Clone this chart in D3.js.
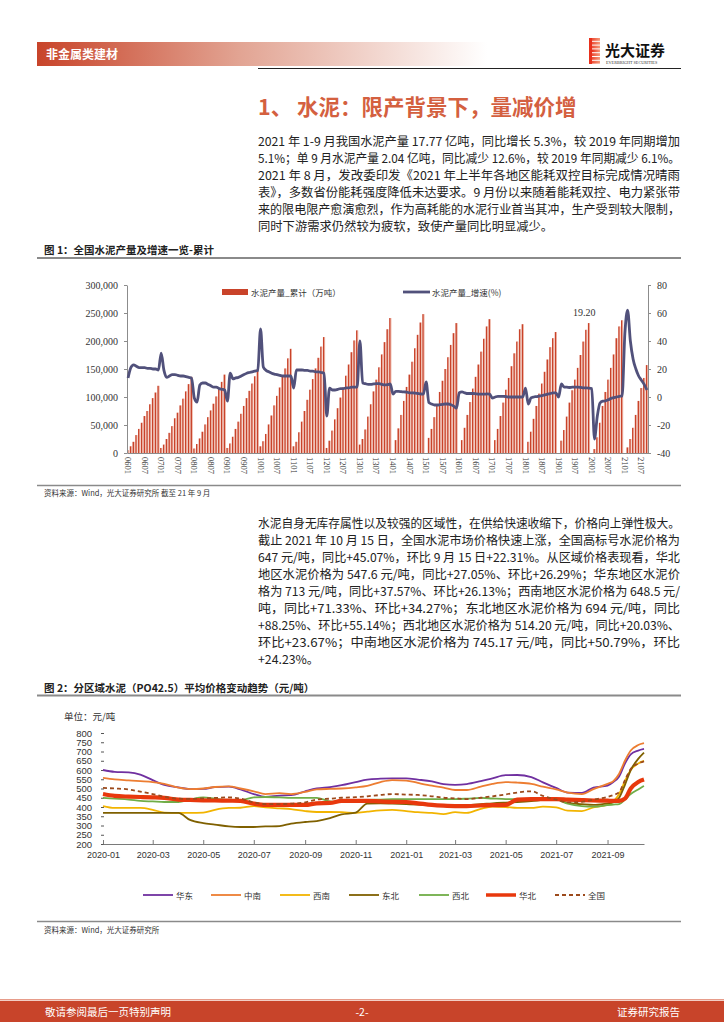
<!DOCTYPE html>
<html><head><meta charset="utf-8">
<script src="https://cdn.jsdelivr.net/npm/d3@7"></script>
<style>body{margin:0;background:#fff}svg{display:block}</style>
</head><body><svg id="c" width="724" height="1024"></svg>
<script>
// ---------- DATA ----------
const headerTag = "非金属类建材";
const sectionTitle = "1、 水泥：限产背景下，量减价增";
const para1 = [
 "2021 年 1-9 月我国水泥产量 17.77 亿吨，同比增长 5.3%，较 2019 年同期增加",
 "5.1%；单 9 月水泥产量 2.04 亿吨，同比减少 12.6%，较 2019 年同期减少 6.1%。",
 "2021 年 8 月，发改委印发《2021 年上半年各地区能耗双控目标完成情况晴雨",
 "表》，多数省份能耗强度降低未达要求。9 月份以来随着能耗双控、电力紧张带",
 "来的限电限产愈演愈烈，作为高耗能的水泥行业首当其冲，生产受到较大限制，",
 "同时下游需求仍然较为疲软，致使产量同比明显减少。"
];
const para2 = [
 "水泥自身无库存属性以及较强的区域性，在供给快速收缩下，价格向上弹性极大。",
 "截止 2021 年 10 月 15 日，全国水泥市场价格快速上涨，全国高标号水泥价格为",
 "647 元/吨，同比+45.07%，环比 9 月 15 日+22.31%。从区域价格表现看，华北",
 "地区水泥价格为 547.6 元/吨，同比+27.05%、环比+26.29%；华东地区水泥价",
 "格为 713 元/吨，同比+37.57%、环比+26.13%；西南地区水泥价格为 648.5 元/",
 "吨，同比+71.33%、环比+34.27%；东北地区水泥价格为 694 元/吨，同比",
 "+88.25%、环比+55.14%；西北地区水泥价格为 514.20 元/吨，同比+20.03%、",
 "环比+23.67%；中南地区水泥价格为 745.17 元/吨，同比+50.79%，环比",
 "+24.23%。"
];

// Figure 1: cumulative cement output (万吨) by year, Jan..Dec
const years = [6,7,8,9,10,11,12,13,14,15,16,17,18,19,20,21];
const p2006 = [5000,12000,20000,32000,43000,54000,66000,75000,87000,98000,108000,120000];
const p2007 = [9000,15000,25000,36000,48000,62000,72000,85000,97000,110000,123000,136000];
const p2008 = [8000,16000,26000,38000,51000,64000,76000,88000,101000,114000,127000,140000];
const p2009 = [9000,17000,29000,43000,56000,70000,84000,98000,111000,124000,137000,150000];
const p2010 = [12000,21000,34000,51000,67000,85000,102000,117000,136000,151000,169000,186000];
const p2011 = [12000,20000,37000,56000,75000,95000,113000,132000,151000,170000,190000,207000];
const p2012 = [9000,22000,40000,60000,80000,99000,117000,138000,158000,180000,201000,219000];
const p2013 = [15000,25000,42000,65000,87000,110000,131000,153000,176000,198000,221000,241000];
const p2014 = [0,23000,44000,68000,93000,118000,140000,163000,187000,211000,233000,248000];
const p2015 = [0,27000,43000,64000,87000,109000,129000,150000,171000,193000,214000,232000];
const p2016 = [0,23000,45000,68000,91000,115000,136000,158000,181000,204000,226000,239000];
const p2017 = [0,23000,43000,66000,90000,113000,134000,155000,178000,199000,221000,230000];
const p2018 = [0,20000,38000,61000,84000,106000,124000,145000,167000,189000,205000,216000];
const p2019 = [0,22000,41000,65000,90000,112000,131000,152000,175000,199000,220000,232000];
const p2020 = [0,7000,28000,54000,84000,109000,131000,152000,176000,205000,226000,237000];
const p2021 = [0,10000,25000,45000,68000,93000,116000,134000,157000];
// growth (%)
const g2006 = [13.6,21,23,22,21,21,21,20.5,20.5,20,20,19.3];
const g2007 = [31.4,19,14,15,16,16,15.5,15,15,14.5,14,13.6];
const g2008 = [-0.7,-3.6,8.5,10,10,9,8,7,7,6,5.5,5];
const g2009 = [-3,17,13,13.6,14,15,16,17,17.5,18,18.5,19];
const g2010 = [48.6,21.4,19,18,17,16.4,16,15.5,15,15,15,15];
const g2011 = [6.4,19.3,19.3,19.3,19,19,18.5,18.5,18,18,17.5,17];
const g2012 = [-13.6,6.4,5,5,5.5,6,6,6.5,6.5,7,7,7];
const g2013 = [40,10,9.5,9,9,9.3,9.5,9.5,9,8.6,8.8,9.3];
const g2014 = [2,4,4,3.8,3.6,3.5,3,3,2.8,2.5,2.2,2];
const g2015 = [10.7,-4,-5,-5.7,-5.7,-5.5,-5.3,-5,-5,-5.5,-6.5,-8];
const g2016 = [3,3.6,3,2.5,2.5,2.5,2.3,2,2,2,2.2,2];
const g2017 = [-0.7,0,0.5,0.5,0.5,0.3,0,0,0,0,0,0];
const g2018 = [6.4,-5,-0.7,0,0.3,0.7,1,1.5,2,2.5,3,3];
const g2019 = [0,9.3,7.1,7,6.8,7,7,7,6.8,6.5,6.5,6.4];
const g2020 = [6,-30,-14,-4.3,-3,-2.8,-2,-1,-0.5,0,0.5,0.7];
const g2021 = [45,62,40,27,20,15,12,9,5];
const leftTicks = [0,50000,100000,150000,200000,250000,300000];
const rightTicks = [-40,-20,0,20,40,60,80];
const fig1Legend = ["水泥产量_累计（万吨）","水泥产量_增速(%)"];

// Figure 2: regional cement prices (元/吨)
const priceDates = ["2020-01-01","2020-01-15","2020-02-01","2020-02-15","2020-03-01","2020-03-15","2020-04-01","2020-04-15","2020-05-01","2020-05-15","2020-06-01","2020-06-15","2020-07-01","2020-07-15","2020-08-01","2020-08-15","2020-09-01","2020-09-15","2020-10-01","2020-10-15","2020-11-01","2020-11-15","2020-12-01","2020-12-15","2021-01-01","2021-01-15","2021-02-01","2021-02-15","2021-03-01","2021-03-15","2021-04-01","2021-04-15","2021-05-01","2021-05-15","2021-06-01","2021-06-15","2021-07-01","2021-07-15","2021-08-01","2021-08-15","2021-09-01","2021-09-08","2021-09-15","2021-09-22","2021-09-29","2021-10-08","2021-10-15"];
const huadong = [600,590,587,575,545,520,506,497,498,507,510,495,470,455,462,464,485,500,508,518,535,548,553,555,555,548,538,524,520,524,540,555,572,573,562,533,503,478,476,505,516,535,565,635,685,705,714];
const zhongnan = [557,549,544,540,535,525,505,497,500,508,512,500,485,470,475,470,482,495,498,500,506,514,535,545,543,530,515,505,492,492,510,525,535,532,525,510,495,478,470,497,525,540,580,650,705,735,745];
const xinan = [405,395,395,395,385,370,368,368,370,385,395,396,405,398,393,389,378,373,373,372,368,375,382,384,378,372,368,362,372,368,390,402,400,395,395,402,398,380,378,398,412,430,470,540,600,635,649];
const dongbei = [368,368,368,368,368,368,368,330,313,305,295,292,292,295,297,310,319,324,340,360,370,418,420,418,415,413,411,411,411,411,415,420,424,427,432,438,443,422,415,411,420,425,450,520,600,660,694];
const xibei = [449,445,440,433,430,427,427,440,452,445,435,437,452,454,452,449,449,449,430,427,430,438,440,442,443,443,443,443,443,445,449,446,443,443,443,443,440,418,405,402,410,413,416,440,470,495,514];
const huabei = [470,460,456,454,452,449,440,438,436,435,434,433,418,411,411,411,411,420,422,433,433,433,430,428,427,420,411,407,405,405,408,410,411,440,443,443,443,440,437,435,434,433,433,445,500,535,548];
const quanguo = [503,500,495,483,470,455,445,444,447,449,452,445,425,416,416,418,425,440,445,450,453,458,465,470,467,465,458,450,447,443,450,458,468,478,485,460,440,425,428,440,455,465,480,545,605,635,647];
const regionNames = ["华东","中南","西南","东北","西北","华北","全国"];
const priceTicks = [200,250,300,350,400,450,500,550,600,650,700,750,800];
const priceXTicks = ["2020-01-01","2020-03-01","2020-05-01","2020-07-01","2020-09-01","2020-11-01","2021-01-01","2021-03-01","2021-05-01","2021-07-01","2021-09-01"];

// ---------- DRAW ----------
const svg = d3.select("#c");
const CJK = "'Noto Sans CJK SC','Noto Sans',sans-serif";
const RED = "#c8442a";

// header
const defs = svg.append("defs");
const hg = defs.append("linearGradient").attr("id","hg");
hg.append("stop").attr("offset","0%").attr("stop-color","#c8442a");
hg.append("stop").attr("offset","45%").attr("stop-color","#e2a493");
hg.append("stop").attr("offset","100%").attr("stop-color","#ffffff");
svg.append("rect").attr("x",37).attr("y",42).attr("width",450).attr("height",24).attr("fill","url(#hg)");
svg.append("text").attr("x",46).attr("y",59).text(headerTag)
  .attr("fill","#fff").attr("font-family",CJK).attr("font-weight","bold").attr("font-size",12);
svg.append("line").attr("x1",258).attr("x2",681).attr("y1",68.5).attr("y2",68.5).attr("stroke","#222").attr("stroke-width",1.2);
// logo
const lg = defs.append("linearGradient").attr("id","lg").attr("x1","0").attr("x2","1");
lg.append("stop").attr("offset","0%").attr("stop-color","#e8301c");
lg.append("stop").attr("offset","100%").attr("stop-color","#f59a7a");
[0,1,2,3,4,5,6].forEach(i=>{
  svg.append("rect").attr("x",589 + (i===3?3:0)).attr("y",38+i*3.8).attr("width",i===3?8:11).attr("height",2.8).attr("fill","url(#lg)");
});
svg.append("rect").attr("x",589).attr("y",38).attr("width",3).attr("height",26).attr("fill","#e8301c");
svg.append("text").attr("x",605).attr("y",56).text("光大证券").attr("font-family",CJK).attr("font-weight","bold").attr("font-size",15).attr("fill","#111");
svg.append("text").attr("x",606).attr("y",63.5).text("EVERBRIGHT SECURITIES").attr("font-family","'Liberation Serif',serif").attr("font-size",4.2).attr("fill","#333");

// section title
svg.append("text").attr("x",258).attr("y",115).text(sectionTitle)
  .attr("font-family",CJK).attr("font-weight","bold").attr("font-size",21.5).attr("fill","#d4603f");

function para(lines, y0, step){
  lines.forEach((t,i)=>{
    const el = svg.append("text").attr("x",258).attr("y",y0+i*step).text(t)
      .attr("font-family",CJK).attr("font-size",12.3).attr("fill","#222");
    if(i<lines.length-1) el.attr("textLength",422).attr("lengthAdjust","spacingAndGlyphs");
  });
}
para(para1,145.5,17);

// ---------- FIGURE 1 ----------
svg.append("text").attr("x",44).attr("y",254).text("图 1：全国水泥产量及增速一览-累计")
  .attr("font-family",CJK).attr("font-weight","bold").attr("font-size",10.5).attr("fill","#222");
svg.append("line").attr("x1",37).attr("x2",681).attr("y1",258).attr("y2",258).attr("stroke","#8a8a8a").attr("stroke-width",1.8);

const months = [];
years.forEach(y=>{ for(let m=1;m<=12;m++){ if(y===21 && m>9) break; months.push(String(y).padStart(2,"0")+String(m).padStart(2,"0")); }});
const prod = [].concat(p2006,p2007,p2008,p2009,p2010,p2011,p2012,p2013,p2014,p2015,p2016,p2017,p2018,p2019,p2020,p2021);
const growth = [].concat(g2006,g2007,g2008,g2009,g2010,g2011,g2012,g2013,g2014,g2015,g2016,g2017,g2018,g2019,g2020,g2021);
const d1 = months.map((m,i)=>({m, p:prod[i], g:growth[i]}));

const x1 = d3.scaleBand().domain(months).range([127,648]).paddingInner(0.22);
const yL = d3.scaleLinear().domain([0,300000]).range([453,285]);
const yR = d3.scaleLinear().domain([-40,80]).range([453,285]);
const serif = "'Liberation Serif','DejaVu Serif',serif";

const bw = x1.bandwidth();
const bars = svg.append("g");
bars.selectAll("rect.b").data(d1).join("rect").attr("class","b")
  .attr("x",d=>x1(d.m)).attr("y",d=>yL(d.p)).attr("width",bw*0.7).attr("height",d=>453-yL(d.p)).attr("fill","#c9432a");
bars.selectAll("rect.h").data(d1).join("rect").attr("class","h")
  .attr("x",d=>x1(d.m)+bw*0.7).attr("y",d=>yL(d.p)).attr("width",bw*0.3).attr("height",d=>453-yL(d.p)).attr("fill","#eaa28f");

const axL = svg.append("g").attr("transform","translate(127,0)")
  .call(d3.axisLeft(yL).tickValues(leftTicks).tickFormat(d3.format(",")).tickSize(3).tickSizeOuter(0).tickPadding(6));
const axR = svg.append("g").attr("transform","translate(648,0)")
  .call(d3.axisRight(yR).tickValues(rightTicks).tickFormat(d=>d<0?"-"+Math.abs(d):d).tickSize(3).tickSizeOuter(0).tickPadding(6));
const xLab = months.filter((m,i)=>i%6===0);
const axB = svg.append("g").attr("transform","translate(0,453)")
  .call(d3.axisBottom(x1).tickValues(xLab).tickSize(0).tickSizeOuter(0).tickPadding(4));
axB.selectAll("text").attr("transform","rotate(90)").attr("x",4).attr("y",0).attr("dy","0.35em").style("text-anchor","start").attr("font-size",8.5);
[axL,axR,axB].forEach(a=>{
  a.selectAll("path").attr("stroke","#8c8c8c");
  a.selectAll("line").attr("stroke","#8c8c8c");
  a.selectAll("text").attr("font-family",serif).attr("fill","#333");
});
axL.selectAll("text").attr("font-size",10);
axR.selectAll("text").attr("font-size",10);

const line1 = d3.line().x(d=>x1(d.m)+bw/2).y(d=>yR(d.g)).curve(d3.curveMonotoneX);
svg.append("path").datum(d1).attr("d",line1).attr("fill","none").attr("stroke","#51517b").attr("stroke-width",2.8).attr("stroke-linejoin","round");

svg.append("text").attr("x",573).attr("y",316).text("19.20").attr("font-family",serif).attr("font-size",10).attr("fill","#333");
// legend fig1
svg.append("rect").attr("x",222).attr("y",289).attr("width",26).attr("height",6).attr("fill","#c9432a");
svg.append("text").attr("x",251).attr("y",295.5).text(fig1Legend[0]).attr("font-family",CJK).attr("font-size",8.5).attr("fill","#333");
svg.append("line").attr("x1",403).attr("x2",430).attr("y1",292).attr("y2",292).attr("stroke","#51517b").attr("stroke-width",2.8);
svg.append("text").attr("x",432).attr("y",295.5).text(fig1Legend[1]).attr("font-family",CJK).attr("font-size",8.5).attr("fill","#333");

svg.append("line").attr("x1",37).attr("x2",681).attr("y1",485.5).attr("y2",485.5).attr("stroke","#8a8a8a").attr("stroke-width",1.5);
svg.append("text").attr("x",44).attr("y",496).text("资料来源：Wind，光大证券研究所 截至 21 年 9 月").attr("font-family",CJK).attr("font-size",7.5).attr("fill","#333");

para(para2,527.5,17.1);

// ---------- FIGURE 2 ----------
svg.append("text").attr("x",44).attr("y",692).text("图 2：分区域水泥（PO42.5）平均价格变动趋势（元/吨）")
  .attr("font-family",CJK).attr("font-weight","bold").attr("font-size",10.5).attr("fill","#222");
svg.append("line").attr("x1",37).attr("x2",681).attr("y1",695.5).attr("y2",695.5).attr("stroke","#8a8a8a").attr("stroke-width",1.8);
svg.append("text").attr("x",64).attr("y",720).text("单位：元/吨").attr("font-family",CJK).attr("font-size",9.5).attr("fill","#333");

const parse = d3.timeParse("%Y-%m-%d");
const x2 = d3.scaleTime().domain([parse("2020-01-01"),parse("2021-10-15")]).range([103,644]);
const y2 = d3.scaleLinear().domain([200,800]).range([844,733]);
const sans = "'Liberation Sans',Arial,sans-serif";

const ay2 = svg.append("g").attr("transform","translate(104,0)")
  .call(d3.axisLeft(y2).tickValues(priceTicks).tickSize(3).tickPadding(9).tickSizeOuter(0));
ay2.select("path").remove();
ay2.selectAll("line").attr("stroke","#555");
ay2.selectAll("text").attr("font-family",sans).attr("font-size",9.5).attr("fill","#333");

const ax2 = svg.append("g").attr("transform","translate(0,844)")
  .call(d3.axisBottom(x2).tickValues(priceXTicks.map(parse)).tickFormat(d3.timeFormat("%Y-%m")).tickSize(-4).tickSizeOuter(0).tickPadding(8));
ax2.select("path").attr("stroke","#7a7a7a");
ax2.selectAll("line").attr("stroke","#7a7a7a");
ax2.selectAll("text").attr("font-family",sans).attr("font-size",9).attr("fill","#333");

const series = [
  {name:regionNames[0], v:huadong, c:"#7030a0", w:1.8},
  {name:regionNames[1], v:zhongnan, c:"#ed7d31", w:1.8},
  {name:regionNames[2], v:xinan, c:"#f2b400", w:1.8},
  {name:regionNames[3], v:dongbei, c:"#7f6000", w:1.8},
  {name:regionNames[4], v:xibei, c:"#70ad47", w:1.8},
  {name:regionNames[5], v:huabei, c:"#e8380d", w:4.2},
  {name:regionNames[6], v:quanguo, c:"#9c4a1c", w:1.8, dash:"4,3"}
];
const line2 = d3.line().x(d=>x2(d.t)).y(d=>y2(d.v)).curve(d3.curveMonotoneX);
series.forEach(s=>{
  const pts = priceDates.map((d,i)=>({t:parse(d), v:s.v[i]}));
  svg.append("path").datum(pts).attr("d",line2).attr("fill","none").attr("stroke",s.c)
    .attr("stroke-width",s.w).attr("stroke-dasharray",s.dash||null).attr("stroke-linejoin","round");
});
// legend
const legX = [143,211,280,349,419,486,555];
series.forEach((s,i)=>{
  svg.append("line").attr("x1",legX[i]).attr("x2",legX[i]+30).attr("y1",895).attr("y2",895)
    .attr("stroke",s.c).attr("stroke-width",s.w>3?3.5:1.8).attr("stroke-dasharray",s.dash||null);
  svg.append("text").attr("x",legX[i]+33).attr("y",898.5).text(s.name).attr("font-family",CJK).attr("font-size",8.5).attr("fill","#333");
});
svg.append("line").attr("x1",37).attr("x2",681).attr("y1",921.5).attr("y2",921.5).attr("stroke","#8a8a8a").attr("stroke-width",1.5);
svg.append("text").attr("x",44).attr("y",933).text("资料来源：Wind，光大证券研究所").attr("font-family",CJK).attr("font-size",7.5).attr("fill","#333");

// footer
svg.append("rect").attr("x",0).attr("y",999).attr("width",724).attr("height",1.5).attr("fill","#e79c8a");
svg.append("rect").attr("x",0).attr("y",1001).attr("width",724).attr("height",21).attr("fill",RED);
svg.append("text").attr("x",45).attr("y",1015.5).text("敬请参阅最后一页特别声明").attr("font-family",CJK).attr("font-size",10.5).attr("fill","#fff");
svg.append("text").attr("x",362).attr("y",1015.5).text("-2-").attr("text-anchor","middle").attr("font-family",CJK).attr("font-size",10.5).attr("fill","#fff");
svg.append("text").attr("x",680).attr("y",1015.5).text("证券研究报告").attr("text-anchor","end").attr("font-family",CJK).attr("font-size",10.5).attr("fill","#fff");
</script></body></html>
